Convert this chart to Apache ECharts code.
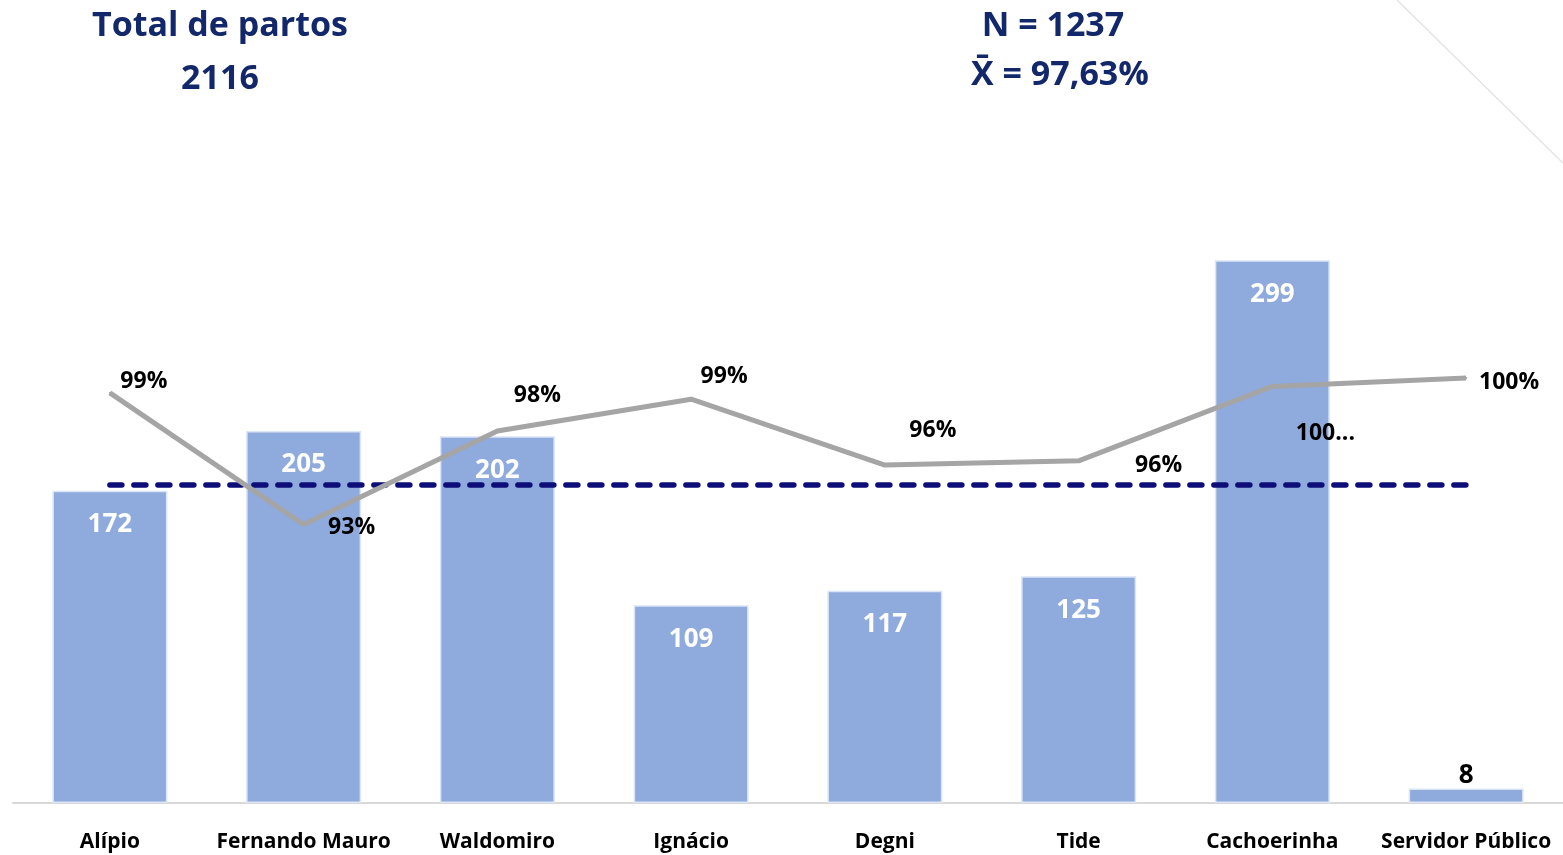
<!DOCTYPE html>
<html>
<head>
<meta charset="utf-8">
<script src="https://cdn.jsdelivr.net/npm/echarts@6/dist/echarts.min.js"></script>
<style>
    html,body{margin:0;padding:0;background:#fff;}
    #mainchart{width:1563px;height:855px;}
</style>
</head>
<body>
<div id="mainchart"></div>
<script>
var categories = ['Alípio','Fernando Mauro','Waldomiro','Ignácio','Degni','Tide','Cachoerinha','Servidor Público'];
var partos = [172,205,202,109,117,125,299,8];
var percentual = [99.3,93.1,97.5,99.0,95.9,96.1,99.6,100];
var percentLabels = ['99%','93%','98%','99%','96%','96%','100...','100%'];
var media = [97.63,97.63,97.63,97.63,97.63,97.63,97.63,97.63];
var totalText = ['Total de partos','2116'];
var nText = ['N = 1237','X\u0304 = 97,63%'];

var fontName = '"Open Sans", Lato, sans-serif';
var navy = '#13286B';

// deslocamento dos rotulos da linha (px)
var labelOffsets = [[34,-11],[48,3],[40,-36],[33,-23],[48,-35],[80,5],[53,47],[43,5]];

var barData = [];
for (var i = 0; i < partos.length; i++) {
    var item = {value: partos[i]};
    if (partos[i] < 20) {
        item.label = {position: 'top', color: '#000', distance: 0};
    }
    barData.push(item);
}
var lineData = [];
for (var j = 0; j < percentual.length; j++) {
    lineData.push({
        value: percentual[j],
        label: {offset: labelOffsets[j], formatter: percentLabels[j]}
    });
}

var myChart = echarts.init(document.getElementById('mainchart'));
var titleFont = 'bold 34px ' + fontName;
var option = {
    animation: false,
    backgroundColor: '#fff',
    grid: {left: 13, right: -2, top: 77, bottom: 52},
    graphic: [
        {type: 'text', x: 220, y: 26, style: {text: totalText[0], fill: navy, font: titleFont, textAlign: 'center', textVerticalAlign: 'middle'}},
        {type: 'text', x: 220, y: 79, style: {text: totalText[1], fill: navy, font: titleFont, textAlign: 'center', textVerticalAlign: 'middle'}},
        {type: 'text', x: 1053, y: 26, style: {text: nText[0], fill: navy, font: titleFont, textAlign: 'center', textVerticalAlign: 'middle'}},
        {type: 'text', x: 1060, y: 75, style: {text: nText[1], fill: navy, font: titleFont, textAlign: 'center', textVerticalAlign: 'middle'}},
        {type: 'line', shape: {x1: 1397, y1: 0, x2: 1563, y2: 163}, style: {stroke: '#e4e4e4', lineWidth: 1.5}}
    ],
    xAxis: [{
        type: 'category',
        data: categories,
        axisTick: {show: false},
        axisLine: {lineStyle: {color: '#d9d9d9', width: 2}},
        axisLabel: {color: '#000', fontFamily: fontName, fontWeight: 'bold', fontSize: 21, margin: 29, interval: 0}
    }],
    yAxis: [
        {type: 'value', min: 0, max: 400, show: false, splitLine: {show: false}},
        {type: 'value', min: 80, max: 114.16, show: false, splitLine: {show: false}},
        {type: 'value', min: 80, max: 120.25, show: false, splitLine: {show: false}}
    ],
    series: [
        {
            name: 'Partos',
            type: 'bar',
            yAxisIndex: 0,
            barWidth: 115,
            data: barData,
            itemStyle: {color: '#8FAADC', borderColor: '#dce5f6', borderWidth: 1.5},
            label: {
                show: true,
                position: 'insideTop',
                distance: 21,
                color: '#fff',
                fontFamily: fontName,
                fontWeight: 'bold',
                fontSize: 26
            },
            z: 1
        },
        {
            name: 'Media',
            type: 'line',
            yAxisIndex: 2,
            data: media,
            symbol: 'none',
            lineStyle: {color: '#0E0E78', width: 5.5, type: [12, 12], cap: 'round'},
            z: 3
        },
        {
            name: 'Percentual',
            type: 'line',
            yAxisIndex: 1,
            data: lineData,
            symbol: 'circle',
            symbolSize: 2,
            itemStyle: {color: '#A5A5A5'},
            lineStyle: {color: '#A5A5A5', width: 5},
            label: {
                show: true,
                position: 'inside',
                align: 'center',
                verticalAlign: 'middle',
                color: '#000',
                fontFamily: fontName,
                fontWeight: 'bold',
                fontSize: 23
            },
            z: 4
        }
    ]
};
myChart.setOption(option);
</script>
</body>
</html>
